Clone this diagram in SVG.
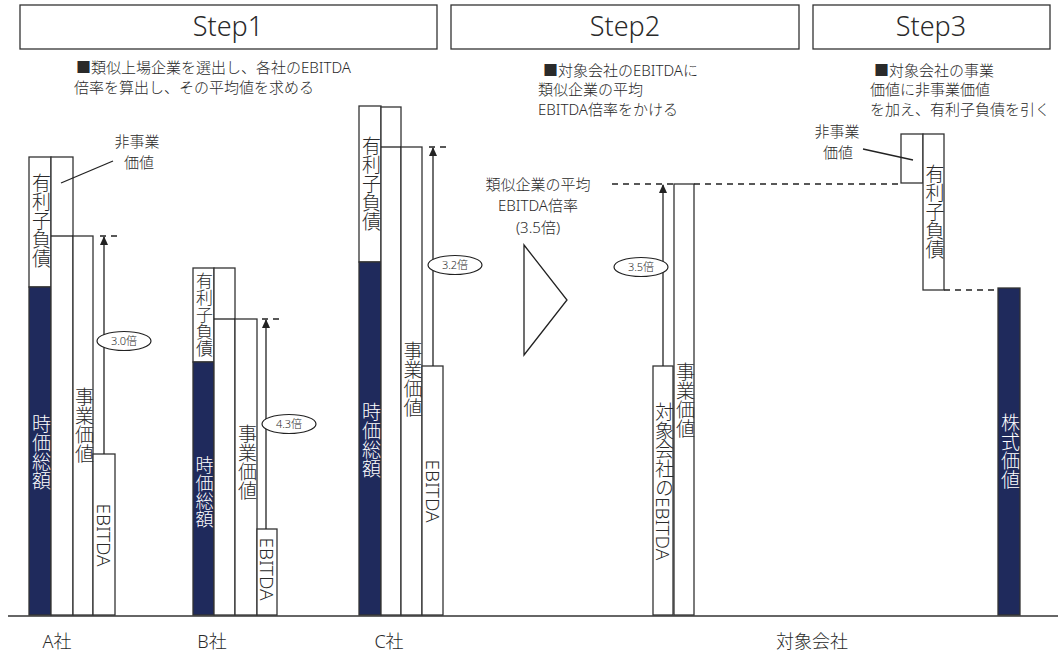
<svg xmlns="http://www.w3.org/2000/svg" width="1061" height="656" viewBox="0 0 1061 656">
<style>
text{font-family:"Noto Sans","Noto Sans CJK JP",sans-serif;fill:#2a2a2a;font-weight:300}
.hdr{font-size:27px;text-anchor:middle}
.desc{font-size:15px}
.box{fill:#fff;stroke:#333;stroke-width:1.3}
.navy{fill:#1f2a5c;stroke:#333;stroke-width:1.3}
.v{font-size:19px;writing-mode:vertical-rl;text-anchor:middle}
.w{fill:#fff}
.ln{stroke:#222;stroke-width:1.3;fill:none}
.dash{stroke:#222;stroke-width:1.3;stroke-dasharray:6,5;fill:none}
.ell{fill:#fff;stroke:#222;stroke-width:1.2}
.et{font-size:11px;text-anchor:middle}
.lbl{font-size:15px;text-anchor:middle}
.bot{font-size:18px;text-anchor:middle}
</style>
<defs>
<marker id="ah" markerWidth="10" markerHeight="10" refX="8" refY="4" orient="auto" markerUnits="userSpaceOnUse">
<path d="M0,0 L9,4 L0,8 Z" fill="#222"/>
</marker>
</defs>
<rect width="1061" height="656" fill="#fff"/>

<g id="step1">
<rect class="box" x="20" y="5" width="417" height="44"/>
<text class="hdr" x="228" y="36">Step1</text>
<text class="desc" x="76" y="73">■類似上場企業を選出し、各社のEBITDA</text>
<text class="desc" x="74" y="93">倍率を算出し、その平均値を求める</text>
</g>
<g id="step2">
<rect class="box" x="451" y="5" width="348" height="44"/>
<text class="hdr" x="625" y="36">Step2</text>
<text class="desc" x="543" y="76">■対象会社のEBITDAに</text>
<text class="desc" x="538" y="95">類似企業の平均</text>
<text class="desc" x="538" y="115">EBITDA倍率をかける</text>
</g>
<g id="step3">
<rect class="box" x="813" y="5" width="237" height="44"/>
<text class="hdr" x="931" y="36">Step3</text>
<text class="desc" x="874" y="76">■対象会社の事業</text>
<text class="desc" x="870" y="95">価値に非事業価値</text>
<text class="desc" x="870" y="115">を加え、有利子負債を引く</text>
</g>

<g id="companyA">
<rect class="box" x="29" y="157" width="22" height="130"/>
<rect class="navy" x="29" y="287" width="22" height="328"/>
<rect class="box" x="51" y="157" width="22" height="458"/>
<rect class="box" x="73" y="236" width="20" height="379"/>
<rect class="box" x="93" y="454" width="22" height="161"/>
<text class="v" x="40" y="221">有利子負債</text>
<text class="v w" x="40" y="452">時価総額</text>
<text class="v" x="83" y="425">事業価値</text>
<text class="v" x="104" y="535">EBITDA</text>
<text class="lbl" x="137" y="147">非事業</text>
<text class="lbl" x="139" y="168">価値</text>
<text class="bot" x="57" y="648">A社</text>
</g>

<g id="companyB">
<rect class="box" x="193" y="268" width="21" height="94"/>
<rect class="navy" x="193" y="362" width="21" height="253"/>
<rect class="box" x="214" y="268" width="21" height="347"/>
<rect class="box" x="235" y="319" width="22" height="296"/>
<rect class="box" x="257" y="529" width="20" height="86"/>
<text class="v" x="203.5" y="315" style="font-size:17px">有利子負債</text>
<text class="v w" x="203.5" y="492" style="font-size:18px">時価総額</text>
<text class="v" x="246" y="462">事業価値</text>
<text class="v" x="267" y="569">EBITDA</text>
<text class="bot" x="212" y="648">B社</text>
</g>

<g id="companyC">
<rect class="box" x="359" y="106" width="22" height="156"/>
<rect class="navy" x="359" y="262" width="22" height="353"/>
<rect class="box" x="381" y="107" width="20" height="508"/>
<rect class="box" x="401" y="147" width="21" height="468"/>
<rect class="box" x="422" y="366" width="21" height="249"/>
<text class="v" x="370" y="184">有利子負債</text>
<text class="v w" x="370" y="440">時価総額</text>
<text class="v" x="411.5" y="379">事業価値</text>
<text class="v" x="432.5" y="491">EBITDA</text>
<text class="bot" x="389" y="648">C社</text>
</g>

<g id="average">
<text class="lbl" x="538" y="190">類似企業の平均</text>
<text class="lbl" x="538" y="211">EBITDA倍率</text>
<text class="lbl" x="538" y="233">(3.5倍)</text>
<polygon points="524,245 567,300 524,355" fill="#fff" stroke="#222" stroke-width="1.3"/>
</g>

<g id="target">
<rect class="box" x="653" y="366" width="20" height="249"/>
<rect class="box" x="674" y="184" width="20" height="431"/>
<text class="v" x="663" y="402" style="text-anchor:start">対象会社のEBITDA</text>
<text class="v" x="684" y="400">事業価値</text>
<rect class="box" x="901" y="134" width="22" height="49"/>
<rect class="box" x="923" y="134" width="21" height="156"/>
<text class="v" x="933.5" y="212">有利子負債</text>
<text class="lbl" x="837" y="137">非事業</text>
<text class="lbl" x="838" y="158">価値</text>
<rect class="navy" x="998" y="288" width="22" height="327"/>
<text class="v w" x="1009" y="451">株式価値</text>
<text class="bot" x="812" y="648">対象会社</text>
</g>

<g id="connectors">
<line class="ln" x1="51" y1="236" x2="73" y2="236"/>
<line class="ln" x1="214" y1="319" x2="235" y2="319"/>
<line class="ln" x1="381" y1="147" x2="401" y2="147"/>
<line class="ln" x1="61" y1="183" x2="113" y2="161"/>
<line class="ln" x1="863" y1="149" x2="913" y2="160"/>
<line class="ln" x1="104" y1="454" x2="104" y2="237" marker-end="url(#ah)"/>
<line class="ln" x1="266" y1="529" x2="266" y2="320" marker-end="url(#ah)"/>
<line class="ln" x1="433" y1="366" x2="433" y2="148" marker-end="url(#ah)"/>
<line class="ln" x1="663" y1="366" x2="663" y2="185" marker-end="url(#ah)"/>
<line class="dash" x1="100" y1="236" x2="121" y2="236"/>
<line class="dash" x1="262" y1="319" x2="284" y2="319"/>
<line class="dash" x1="429" y1="147" x2="450" y2="147"/>
<line class="dash" x1="612" y1="184" x2="674" y2="184"/>
<line class="dash" x1="694" y1="184" x2="901" y2="184"/>
<line class="dash" x1="944" y1="290" x2="998" y2="290"/>
<ellipse class="ell" cx="124" cy="341" rx="27" ry="9.5"/>
<text class="et" x="124" y="345">3.0倍</text>
<ellipse class="ell" cx="289" cy="424" rx="27" ry="9.5"/>
<text class="et" x="289" y="428">4.3倍</text>
<ellipse class="ell" cx="455" cy="265" rx="27" ry="9.5"/>
<text class="et" x="455" y="269">3.2倍</text>
<ellipse class="ell" cx="641" cy="267" rx="27" ry="9.5"/>
<text class="et" x="641" y="271">3.5倍</text>
<line x1="8" y1="616" x2="1058" y2="616" stroke="#333" stroke-width="1.6"/>
</g>
</svg>
